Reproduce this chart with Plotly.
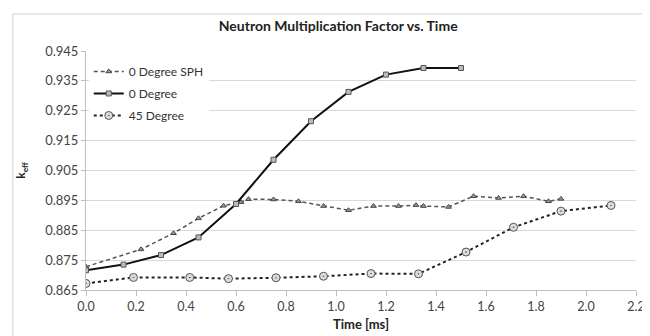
import plotly.graph_objects as go

# 0 Degree SPH
t_sph = [0.0, 0.22, 0.35, 0.45, 0.55, 0.62, 0.65, 0.75, 0.85, 0.95, 1.05, 1.15, 1.25, 1.32, 1.35, 1.45, 1.55, 1.65, 1.75, 1.85, 1.9]
k_sph = [0.8728, 0.8786, 0.8840, 0.8890, 0.8932, 0.8944, 0.8954, 0.8953, 0.8947, 0.8931, 0.8917, 0.8931, 0.8931, 0.8934, 0.8931, 0.8928, 0.8964, 0.8958, 0.8964, 0.8947, 0.8955]

# 0 Degree
t_0 = [0.0, 0.15, 0.3, 0.45, 0.6, 0.75, 0.9, 1.05, 1.2, 1.35, 1.5]
k_0 = [0.8716, 0.8735, 0.8767, 0.8826, 0.8938, 0.9086, 0.9215, 0.9313, 0.9371, 0.9393, 0.9393]

# 45 Degree
t_45 = [0.0, 0.19, 0.415, 0.57, 0.76, 0.95, 1.14, 1.33, 1.52, 1.71, 1.9, 2.1]
k_45 = [0.8672, 0.8692, 0.8692, 0.8688, 0.8691, 0.8696, 0.8705, 0.8704, 0.8777, 0.8860, 0.8914, 0.8933]

x_ticks = [0.0, 0.2, 0.4, 0.6, 0.8, 1.0, 1.2, 1.4, 1.6, 1.8, 2.0, 2.2]
y_ticks = [0.865, 0.875, 0.885, 0.895, 0.905, 0.915, 0.925, 0.935, 0.945]

FONT = "Lato, Open Sans, sans-serif"

fig = go.Figure()
fig.add_trace(go.Scatter(
    x=t_sph, y=k_sph, name="0 Degree SPH", mode="lines+markers", legendgroup="a",
    line=dict(color="#555555", width=1.5, dash="4px,3px"),
    marker=dict(symbol="triangle-up", size=5, color="#9a9a9a", line=dict(color="#444444", width=1)),
))
fig.add_trace(go.Scatter(
    x=t_0, y=k_0, name="0 Degree", mode="lines+markers", legendgroup="b",
    line=dict(color="#111111", width=2),
    marker=dict(symbol="square", size=5, color="#bbbbbb", line=dict(color="#555555", width=1)),
))
fig.add_trace(go.Scatter(
    x=t_45, y=k_45, name="45 Degree", mode="lines+markers", legendgroup="c",
    line=dict(color="#222222", width=2, dash="dot"),
    marker=dict(symbol="circle-dot", size=8, color="#dddddd", line=dict(color="#555555", width=1)),
))

fig.update_layout(
    width=650, height=336,
    margin=dict(l=78, r=22, t=43, b=54),
    paper_bgcolor="white", plot_bgcolor="white",
    font=dict(family=FONT, size=12, color="#333333"),
    title=dict(text="<b>Neutron Multiplication Factor vs. Time</b>", x=0.508, xanchor="center",
               y=0.945, yanchor="middle", font=dict(family=FONT, size=14, color="#222222")),
    showlegend=True,
    legend=dict(x=0.005, y=0.975, xanchor="left", yanchor="top", bgcolor="white",
                font=dict(family=FONT, size=12, color="#333333"), tracegroupgap=3,
                itemwidth=30),
    xaxis=dict(range=[0, 2.2], tickvals=x_ticks, tickformat=".1f", showgrid=False,
               showline=True, linecolor="#bfbfbf", linewidth=1, ticks="outside", ticklen=5,
               tickcolor="#bfbfbf", zeroline=False, automargin=False,
               tickfont=dict(family=FONT, size=12.5, color="#444444"),
               title=dict(text="<b>Time [ms]</b>", font=dict(family=FONT, size=13, color="#222222"), standoff=6)),
    yaxis=dict(range=[0.865, 0.945], tickvals=y_ticks, tickformat=".3f", showgrid=True,
               gridcolor="#d9d9d9", gridwidth=1, showline=True, linecolor="#bfbfbf", linewidth=1,
               ticks="outside", ticklen=4, tickcolor="#bfbfbf", zeroline=False, automargin=False,
               tickfont=dict(family=FONT, size=13, color="#444444"),
               title=dict(text="<b>k<sub>eff</sub></b>", font=dict(family=FONT, size=12, color="#222222"), standoff=16)),
    shapes=[dict(type="rect", xref="paper", yref="paper", x0=-0.133, x1=1.038, y0=-0.4, y1=1.155,
                 line=dict(color="#d0d0d0", width=1), fillcolor="rgba(0,0,0,0)", layer="below")],
)

fig.write_html("out.html")
